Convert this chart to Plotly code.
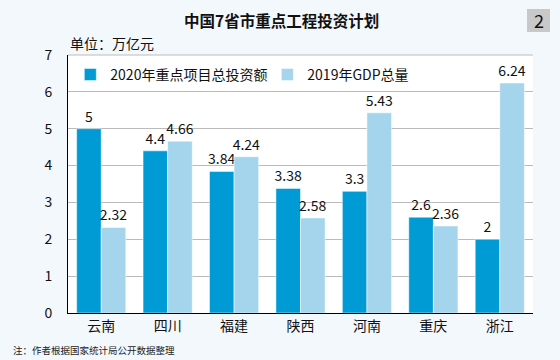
import plotly.graph_objects as go

categories = ["云南", "四川", "福建", "陕西", "河南", "重庆", "浙江"]
invest_2020 = [5, 4.4, 3.84, 3.38, 3.3, 2.6, 2]
gdp_2019 = [2.32, 4.66, 4.24, 2.58, 5.43, 2.36, 6.24]
y_ticks = [0, 1, 2, 3, 4, 5, 6, 7]

FONT = "Noto Sans CJK SC, Noto Sans, sans-serif"
DARK = "#009BD5"
LIGHT = "#A4D5EC"

fig = go.Figure()
fig.add_trace(go.Bar(
    x=categories, y=invest_2020, name="2020年重点项目总投资额",
    marker=dict(color=DARK, line=dict(color="white", width=0.5)),
    text=[str(v) for v in invest_2020], textposition="outside",
    textfont=dict(size=14, color="#111111"), cliponaxis=False,
    constraintext="none",
))
fig.add_trace(go.Bar(
    x=categories, y=gdp_2019, name="2019年GDP总量",
    marker=dict(color=LIGHT, line=dict(color="white", width=0.5)),
    text=[str(v) for v in gdp_2019], textposition="outside",
    textfont=dict(size=14, color="#111111"), cliponaxis=False,
    constraintext="none",
))

fig.update_layout(
    width=560, height=360,
    margin=dict(l=68, r=27, t=55, b=47),
    paper_bgcolor="#F3F8FC", plot_bgcolor="white",
    font=dict(family=FONT, size=14, color="#111111"),
    barmode="group", bargap=0.26, bargroupgap=0,
    showlegend=True,
    legend=dict(
        orientation="h", x=0.005, y=0.985, xanchor="left", yanchor="top",
        bgcolor="white", font=dict(size=14, family=FONT),
        entrywidth=152, entrywidthmode="pixels",
        traceorder="normal",
    ),
    xaxis=dict(
        showline=True, linecolor="black", linewidth=1,
        ticks="", tickfont=dict(size=14), showgrid=False,
    ),
    yaxis=dict(
        range=[0, 7], tickvals=y_ticks, showline=True, linecolor="black",
        linewidth=1, showgrid=True, gridcolor="#BBBBBB", gridwidth=1,
        zeroline=False, tickfont=dict(size=14), ticks="", ticklen=0,
        ticklabelstandoff=12,
    ),
)

fig.add_annotation(
    text="<b>中国7省市重点工程投资计划</b>", xref="paper", yref="paper",
    x=(281 - 68) / 465, y=1 + (55 - 20) / 258, xanchor="center", yanchor="middle",
    showarrow=False, font=dict(size=15.5, family=FONT, color="#111111"),
)
fig.add_annotation(
    text="单位：万亿元", xref="paper", yref="paper",
    x=0, y=1 + (55 - 43) / 258, xanchor="left", yanchor="middle",
    showarrow=False, font=dict(size=14, family=FONT, color="#111111"),
)
fig.add_annotation(
    text="注：作者根据国家统计局公开数据整理", xref="paper", yref="paper",
    x=-(68 - 11) / 465, y=-(350 - 313) / 258, xanchor="left", yanchor="middle",
    showarrow=False, font=dict(size=9.5, family=FONT, color="#222222"),
)
fig.add_shape(
    type="rect", xref="paper", yref="paper",
    x0=(527 - 68) / 465, x1=(550 - 68) / 465,
    y0=1 + (55 - 32) / 258, y1=1 + (55 - 9) / 258,
    fillcolor="#C8C8C8", line=dict(width=0),
)
fig.add_annotation(
    text="2", xref="paper", yref="paper",
    x=(538.5 - 68) / 465, y=1 + (55 - 20.5) / 258, xanchor="center", yanchor="middle",
    showarrow=False, font=dict(size=18, family=FONT, color="#111111"),
)
fig.add_shape(type="line", xref="paper", yref="paper", x0=0, x1=1, y0=1, y1=1,
              line=dict(color="#BBBBBB", width=1))

fig.write_html(
    "out.html",
    config={"displayModeBar": False},
    post_script="document.body.style.margin='0';document.body.style.background='#F3F8FC';",
)
